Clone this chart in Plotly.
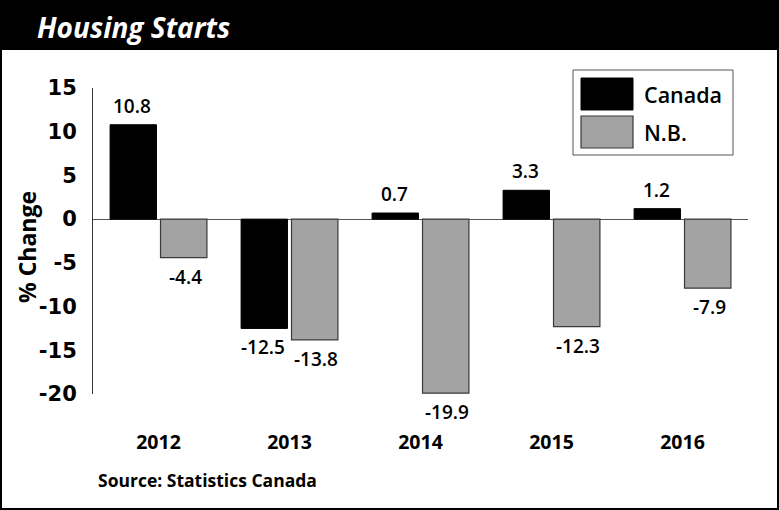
import plotly.graph_objects as go

years = ["2012", "2013", "2014", "2015", "2016"]
canada = [10.8, -12.5, 0.7, 3.3, 1.2]
nb = [-4.4, -13.8, -19.9, -12.3, -7.9]
series_names = ["Canada", "N.B."]
y_ticks = [15, 10, 5, 0, -5, -10, -15, -20]

BLACK = "#000000"
GREY = "#a3a3a3"
EDGE = "#3a3a3a"
LABEL_FONT = "Open Sans"

W, H = 779, 510
ML, MR, MT, MB = 93, 31, 88, 116
PW, PH = W - ML - MR, H - MT - MB


def px(x):
    """pixel column -> paper x"""
    return (x - ML) / PW


def py(y):
    """pixel row (from top) -> paper y"""
    return (H - MB - y) / PH


fig = go.Figure()
fig.add_trace(go.Bar(x=years, y=canada, name=series_names[0],
                     marker=dict(color=BLACK, line=dict(color=BLACK, width=1))))
fig.add_trace(go.Bar(x=years, y=nb, name=series_names[1],
                     marker=dict(color=GREY, line=dict(color=EDGE, width=1.2))))

# value labels above positive bars, below negative ones
# (category axis: annotation x is the category index)
annotations = []
for vals, dx in ((canada, -26.5), (nb, 26.5)):
    for i, v in enumerate(vals):
        annotations.append(dict(
            x=i, y=v, xref="x", yref="y", text=f"{v:.1f}", showarrow=False,
            xshift=dx, yshift=19 if v >= 0 else -19, yanchor="middle",
            font=dict(family=LABEL_FONT, size=19, color="black", weight=600)))

# title, y-axis caption and source
annotations.append(dict(x=px(35), y=py(27), xref="paper", yref="paper",
                        text="<b><i>Housing Starts</i></b>", showarrow=False,
                        xanchor="left", yanchor="middle",
                        font=dict(family="Open Sans", size=28, color="white", weight=800)))
annotations.append(dict(x=px(27), y=py(247), xref="paper", yref="paper",
                        text="% Change", textangle=-90, showarrow=False,
                        xanchor="center", yanchor="middle",
                        font=dict(family=LABEL_FONT, size=23, color="black", weight=700)))
annotations.append(dict(x=px(96), y=py(480), xref="paper", yref="paper",
                        text="Source: Statistics Canada", showarrow=False,
                        xanchor="left", yanchor="middle",
                        font=dict(family=LABEL_FONT, size=17.5, color="black", weight=700)))

shapes = [
    # header band
    dict(type="rect", xref="paper", yref="paper", x0=px(0), x1=px(W), y0=py(50), y1=py(0),
         fillcolor="black", line=dict(width=0)),
    # outer frame
    dict(type="rect", xref="paper", yref="paper", x0=px(1), x1=px(W - 1), y0=py(H - 1), y1=py(1),
         line=dict(color="black", width=2), fillcolor="rgba(0,0,0,0)"),
    # legend frame and swatches
    dict(type="rect", xref="paper", yref="paper", x0=px(573), x1=px(733), y0=py(155), y1=py(70),
         line=dict(color="#555555", width=1), fillcolor="white"),
    dict(type="rect", xref="paper", yref="paper", x0=px(581), x1=px(633), y0=py(110), y1=py(78),
         line=dict(color=BLACK, width=1), fillcolor=BLACK),
    dict(type="rect", xref="paper", yref="paper", x0=px(581), x1=px(633), y0=py(148), y1=py(116),
         line=dict(color=EDGE, width=1.2), fillcolor=GREY),
]
for name, yc in zip(series_names, (94, 132)):
    annotations.append(dict(x=px(642), y=py(yc), xref="paper", yref="paper", text=name,
                            showarrow=False, xanchor="left", yanchor="middle",
                            font=dict(family=LABEL_FONT, size=21.5, color="black", weight=600)))

fig.update_layout(
    width=W, height=H,
    margin=dict(l=ML, r=MR, t=MT, b=MB),
    paper_bgcolor="white", plot_bgcolor="white",
    barmode="group", bargap=0.23, bargroupgap=0.08,
    showlegend=False,
    annotations=annotations, shapes=shapes,
    xaxis=dict(type="category", range=[-0.5, len(years) - 0.5],
               showline=False, showgrid=False, zeroline=False, ticks="",
               tickfont=dict(family=LABEL_FONT, size=19.5, color="black", weight=700),
               ticklabelstandoff=34),
    yaxis=dict(range=[-20, 15], tickvals=y_ticks, ticktext=[str(t) for t in y_ticks],
               showgrid=False, showline=True, linecolor="#333333", linewidth=1,
               zeroline=True, zerolinecolor="#555555", zerolinewidth=1,
               ticks="", ticklabelstandoff=11,
               tickfont=dict(family="DejaVu Sans", size=21, color="black", weight=700)),
)

fig.write_html("out.html")
